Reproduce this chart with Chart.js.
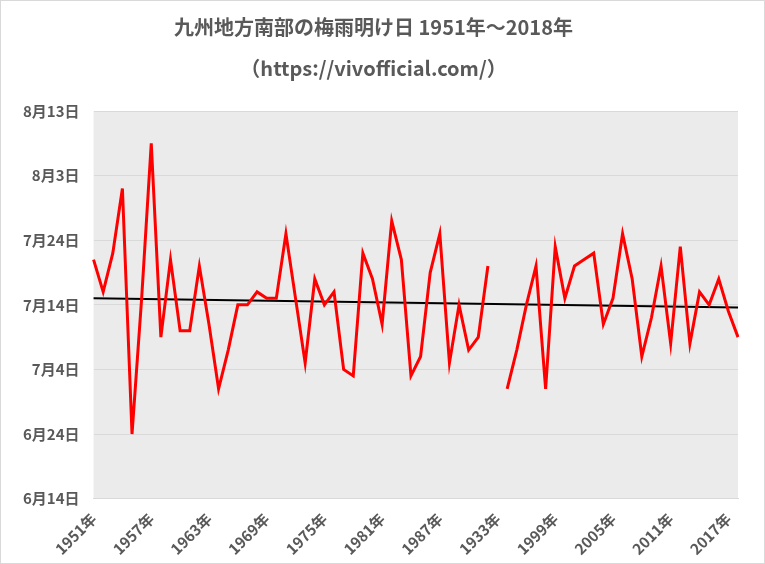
<!DOCTYPE html>
<html><head><meta charset="utf-8">
<script src="https://cdn.jsdelivr.net/npm/chart.js@4"></script>
<style>html,body{margin:0;padding:0;background:#fff}#w{width:765px;height:564px;box-sizing:border-box;border:1px solid #d9d9d9}</style>
</head><body><div id="w"><canvas id="c"></canvas></div>
<script>
const years = [];
for (let y = 1951; y <= 2018; y++) years.push(y);
const tickYears = {1951:'1951年',1957:'1957年',1963:'1963年',1969:'1969年',1975:'1975年',1981:'1981年',1987:'1987年',1993:'1933年',1999:'1999年',2005:'2005年',2011:'2011年',2017:'2017年'};
const endDates = ['7/21','7/16','7/22','8/1','6/24','7/15','8/8','7/9','7/21','7/10',
 '7/10','7/20','7/11','7/1','7/7','7/14','7/14','7/16','7/15','7/15',
 '7/25','7/15','7/5','7/18','7/14','7/16','7/4','7/3','7/22','7/18',
 '7/11','7/27','7/21','7/3','7/6','7/19','7/25','7/5','7/14','7/7',
 '7/9','7/20',null,'7/1','7/7','7/14','7/20','7/1','7/23','7/15',
 '7/20','7/21','7/22','7/11','7/15','7/25','7/18','7/6','7/12','7/20',
 '7/8','7/23','7/8','7/16','7/14','7/18','7/13','7/9'];
const trendStart = '7/15', trendEnd = '7/13.6';
const yTicks = ['6月14日','6月24日','7月4日','7月14日','7月24日','8月3日','8月13日'];

function toDay(s){ if(!s) return null; const [m,d]=s.split('/').map(Number); return (m===6? d-14 : m===7 ? d+16 : d+47); }
const vals = endDates.map(toDay);
const trend = years.map((y,i)=> i===0 ? toDay(trendStart) : (i===years.length-1 ? toDay(trendEnd) : null));

const bg = {id:'bg', beforeDraw(ch){const a=ch.chartArea,c=ch.ctx;c.save();c.fillStyle='#ebebeb';c.fillRect(a.left,a.top,a.right-a.left,a.bottom-a.top);c.restore();}};
const F = "'Noto Sans CJK JP', sans-serif";
new Chart(document.getElementById('c'), {
 type:'line',
 data:{labels:years, datasets:[
  {data:vals, borderColor:'#ff0000', borderWidth:3, pointRadius:0, spanGaps:false, tension:0},
  {data:trend, borderColor:'#000', borderWidth:2, pointRadius:0, spanGaps:true}
 ]},
 options:{responsive:true, maintainAspectRatio:false, animation:false,
  layout:{padding:{left:8,right:26,top:4,bottom:2}},
  plugins:{legend:{display:false}, tooltip:{enabled:false},
   title:{display:true, text:['九州地方南部の梅雨明け日 1951年～2018年','（https://vivofficial.com/）'], color:'#595959', font:{family:F,size:20,weight:'bold',lineHeight:2.05}, padding:{top:2,bottom:22}}},
  scales:{
   x:{grid:{display:false}, border:{color:'#d9d9d9'},
    ticks:{autoSkip:false, maxRotation:45, minRotation:45, color:'#595959', font:{family:F,size:15,weight:'bold'},
     callback:(v,i)=>tickYears[years[i]]||''}},
   y:{min:0,max:60, grid:{color:'#d9d9d9', drawTicks:false}, border:{display:false},
    ticks:{stepSize:10, padding:14, color:'#595959', font:{family:F,size:15,weight:'bold'}, callback:(v)=>yTicks[v/10]}}
  }},
 plugins:[bg]
});
</script></body></html>
